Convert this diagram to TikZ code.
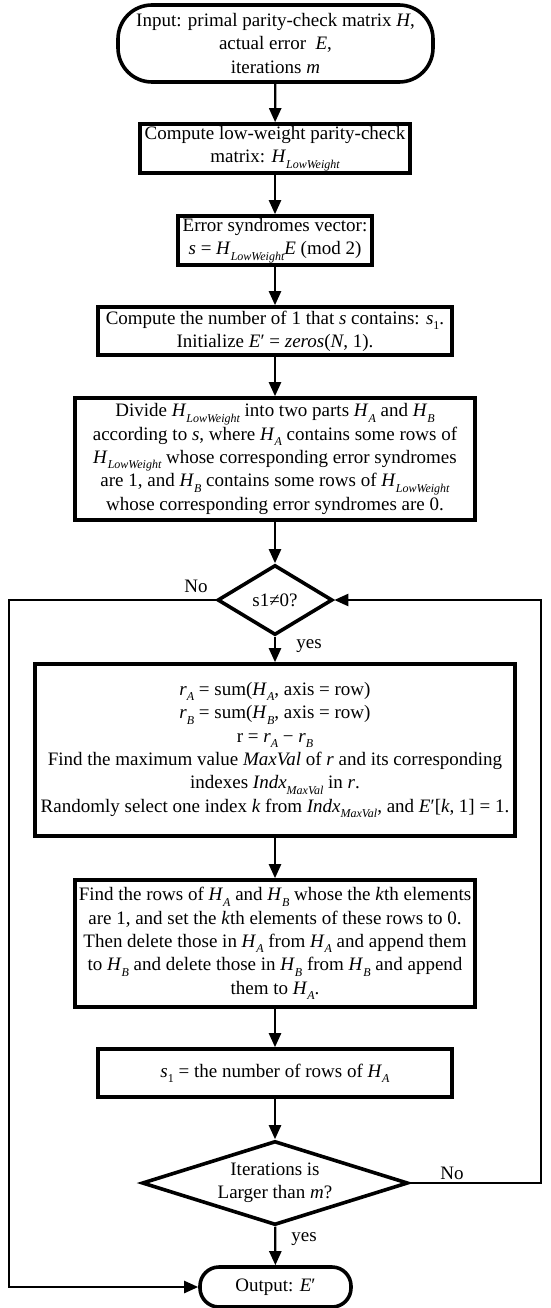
\documentclass[tikz,border=0pt]{standalone}
\usepackage{fontspec}
\setmainfont{Liberation Serif}
\usetikzlibrary{arrows.meta,shapes.geometric}
\newcommand\sbs[1]{\raisebox{-0.28em}{\fontsize{12}{12}\selectfont\itshape #1}}
\newcommand\sbu[1]{\raisebox{-0.28em}{\fontsize{12}{12}\selectfont #1}}
\newcommand\ii[1]{\textit{#1}}
\begin{document}
\begin{tikzpicture}[x=1pt,y=-1pt,
  every node/.style={font=\fontsize{19}{23.3}\selectfont},
  proc/.style={draw, line width=3.6pt, align=center, inner sep=0pt},
  term/.style={draw, line width=3.6pt, align=center, inner sep=0pt},
  dec/.style={draw, diamond, line width=3.6pt, align=center, inner sep=0pt},
  conn/.style={line width=2.3pt, -{Triangle[length=14pt,width=12pt]}},
  lbl/.style={inner sep=0pt}
]
\useasboundingbox (0,0) rectangle (550,1308);

\node[term, rounded corners=34pt, minimum width=315pt, minimum height=77pt] (start) at (275.5,43.5)
  {Input: primal parity-check matrix \ii{H},\\ actual error \ \ii{E},\\ iterations \ii{m}};
\node[proc, minimum width=270pt, minimum height=49pt] (b2) at (275,148.5)
  {Compute low-weight parity-check\\ matrix: \ii{H}\sbs{LowWeight}};
\node[proc, minimum width=194pt, minimum height=49pt] (b3) at (275,240.5)
  {Error syndromes vector:\\ \ii{s} = \ii{H}\sbs{LowWeight}\ii{E} (mod 2)};
\node[proc, minimum width=354pt, minimum height=48pt] (b4) at (275,331)
  {Compute the number of 1 that \ii{s} contains: \ii{s}\sbu{1}.\\ Initialize \ii{E}′ = \ii{zeros}(\ii{N}, 1).};
\node[proc, minimum width=400pt, minimum height=122pt] (b5) at (275,459)
  {Divide \ii{H}\sbs{LowWeight} into two parts \ii{H}\sbs{A} and \ii{H}\sbs{B}\\
   according to \ii{s}, where \ii{H}\sbs{A} contains some rows of\\
   \ii{H}\sbs{LowWeight} whose corresponding error syndromes\\
   are 1, and \ii{H}\sbs{B} contains some rows of \ii{H}\sbs{LowWeight}\\
   whose corresponding error syndromes are 0.};
\node[dec, aspect=1.64, minimum width=115pt, minimum height=70pt] (d1) at (275,600) {s1≠0?};
\node[proc, minimum width=480pt, minimum height=172pt] (b6) at (275,750)
  {\ii{r}\sbs{A} = sum(\ii{H}\sbs{A}, axis = row)\\
   \ii{r}\sbs{B} = sum(\ii{H}\sbs{B}, axis = row)\\
   r = \ii{r}\sbs{A} − \ii{r}\sbs{B}\\
   Find the maximum value \ii{MaxVal} of \ii{r} and its corresponding\\
   indexes \ii{Indx}\sbs{MaxVal} in \ii{r}.\\
   Randomly select one index \ii{k} from \ii{Indx}\sbs{MaxVal}, and \ii{E}′[\ii{k}, 1] = 1.};
\node[proc, minimum width=400pt, minimum height=127pt] (b7) at (275,943.5)
  {Find the rows of \ii{H}\sbs{A} and \ii{H}\sbs{B} whose the \ii{k}th elements\\
   are 1, and set the \ii{k}th elements of these rows to 0.\\
   Then delete those in \ii{H}\sbs{A} from \ii{H}\sbs{A} and append them\\
   to \ii{H}\sbs{B} and delete those in \ii{H}\sbs{B} from \ii{H}\sbs{B} and append\\
   them to \ii{H}\sbs{A}.};
\node[proc, minimum width=354pt, minimum height=48pt] (b8) at (275,1073)
  {\ii{s}\sbu{1} = the number of rows of \ii{H}\sbs{A}};
\node[dec, aspect=3.15, minimum width=266pt, minimum height=84pt] (d2) at (275,1183)
  {Iterations is\\ Larger than \ii{m}?};
\node[term, rounded corners=19pt, minimum width=151pt, minimum height=40pt] (out) at (275.5,1287)
  {Output: \ii{E}′};

\coordinate (lc) at (9,600);
\coordinate (rc) at (541,1183);

\draw[conn] (start) -- (b2);
\draw[conn] (b2) -- (b3);
\draw[conn] (b3) -- (b4);
\draw[conn] (b4) -- (b5);
\draw[conn] (b5) -- (d1);
\draw[conn] (d1) -- (b6);
\draw[conn] (b6) -- (b7);
\draw[conn] (b7) -- (b8);
\draw[conn] (b8) -- (d2);
\draw[conn] (d2) -- (out);
\draw[conn] (d1.west) -- (lc) |- (out.west);
\draw[conn] (d2.east) -- (rc) |- (d1.east);

\node[lbl] (no1) at (196,586) {No};
\node[lbl] (yes1) at (309,646) {yes};
\node[lbl] (no2) at (452,1173) {No};
\node[lbl] (yes2) at (304,1239) {yes};
\end{tikzpicture}
\end{document}
